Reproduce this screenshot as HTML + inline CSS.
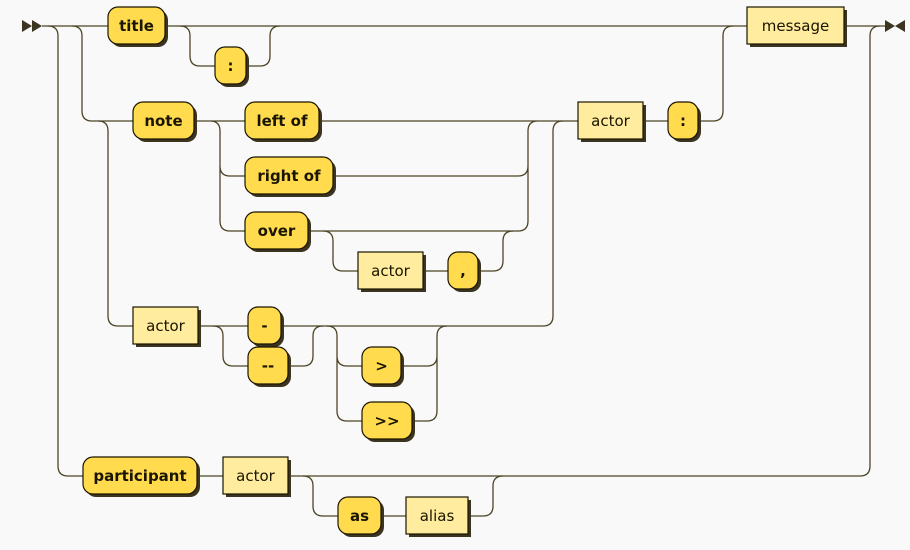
<!DOCTYPE html>
<html><head><meta charset="utf-8"><style>
html,body{margin:0;padding:0;background:#f9f9f9;}
svg{display:block;}
.l{fill:none;stroke:#4d4425;stroke-width:1.3;}
.t rect.b{fill:#ffdb4d;stroke:#1a1500;stroke-width:1.2;}
.n rect.b{fill:#ffec9e;stroke:#1a1500;stroke-width:1.2;}
rect.s{fill:#3b3420;}
text{font-family:"DejaVu Sans","Liberation Sans",sans-serif;font-size:15px;fill:#1a1500;text-anchor:middle;dominant-baseline:central;}
.t text{font-weight:bold;}
</style></head><body>
<svg width="910" height="550" viewBox="0 0 910 550">
<g class="l">
<path d="M42 26 H108 M165 26 H747 M844 26 H885"/>
<path d="M180 26 Q190 26 190 36 V56 Q190 66 200 66 H215 M246 66 H260 Q270 66 270 56 V36 Q270 26 280 26"/>
<path d="M48 26 Q58 26 58 36 V466 Q58 476 68 476 H83"/>
<path d="M72 26 Q82 26 82 36 V111 Q82 121 92 121 H133"/>
<path d="M98 121 Q108 121 108 131 V316 Q108 326 118 326 H133"/>
<path d="M194 121 H245 M210 121 Q220 121 220 131 V221 Q220 231 230 231 H245 M220 166 Q220 176 230 176 H245"/>
<path d="M319 121 H578 M308 231 H518 Q528 231 528 221 V131 Q528 121 538 121 M333 176 H518 Q528 176 528 166"/>
<path d="M323 231 Q333 231 333 241 V261 Q333 271 343 271 H358 M423 271 H448 M478 271 H493 Q503 271 503 261 V241 Q503 231 513 231"/>
<path d="M198 326 H248 M281 326 H543 Q553 326 553 316 V131 Q553 121 563 121"/>
<path d="M213 326 Q223 326 223 336 V356 Q223 366 233 366 H248 M288 366 H303 Q313 366 313 356 V336 Q313 326 323 326"/>
<path d="M327 326 Q337 326 337 336 V356 Q337 366 347 366 H362 M337 356 V411 Q337 421 347 421 H362"/>
<path d="M401 366 H427 Q437 366 437 356 V336 Q437 326 447 326 M412 421 H427 Q437 421 437 411 V356"/>
<path d="M643 121 H668 M698 121 H713 Q723 121 723 111 V36 Q723 26 733 26"/>
<path d="M197 476 H223 M288 476 H860 Q870 476 870 466 V36 Q870 26 880 26"/>
<path d="M303 476 Q313 476 313 486 V506 Q313 516 323 516 H338 M381 516 H406 M468 516 H483 Q493 516 493 506 V486 Q493 476 503 476"/>
</g>
<g fill="#3b3420">
<polygon points="22,20 32,26 22,32"/><polygon points="32,20 42,26 32,32"/>
<polygon points="885,20 895,26 885,32"/><polygon points="905,20 895,26 905,32"/>
</g>
<g class="t">
<rect class="s" x="111" y="10" width="57" height="37" rx="10"/><rect class="b" x="108" y="7" width="57" height="37" rx="10"/><text x="136.5" y="26">title</text>
<rect class="s" x="218" y="50" width="31" height="37" rx="10"/><rect class="b" x="215" y="47" width="31" height="37" rx="10"/><text x="230.5" y="66">:</text>
<rect class="s" x="136" y="105" width="61" height="37" rx="10"/><rect class="b" x="133" y="102" width="61" height="37" rx="10"/><text x="163.5" y="121">note</text>
<rect class="s" x="248" y="105" width="74" height="37" rx="10"/><rect class="b" x="245" y="102" width="74" height="37" rx="10"/><text x="282" y="121">left of</text>
<rect class="s" x="248" y="160" width="88" height="37" rx="10"/><rect class="b" x="245" y="157" width="88" height="37" rx="10"/><text x="289" y="176">right of</text>
<rect class="s" x="248" y="215" width="63" height="37" rx="10"/><rect class="b" x="245" y="212" width="63" height="37" rx="10"/><text x="276.5" y="231">over</text>
<rect class="s" x="451" y="255" width="30" height="37" rx="10"/><rect class="b" x="448" y="252" width="30" height="37" rx="10"/><text x="463" y="271">,</text>
<rect class="s" x="671" y="105" width="30" height="37" rx="10"/><rect class="b" x="668" y="102" width="30" height="37" rx="10"/><text x="683" y="121">:</text>
<rect class="s" x="251" y="310" width="33" height="37" rx="10"/><rect class="b" x="248" y="307" width="33" height="37" rx="10"/><text x="264.5" y="326">-</text>
<rect class="s" x="251" y="350" width="40" height="37" rx="10"/><rect class="b" x="248" y="347" width="40" height="37" rx="10"/><text x="268" y="366">--</text>
<rect class="s" x="365" y="350" width="39" height="37" rx="10"/><rect class="b" x="362" y="347" width="39" height="37" rx="10"/><text x="381.5" y="366">&gt;</text>
<rect class="s" x="365" y="405" width="50" height="37" rx="10"/><rect class="b" x="362" y="402" width="50" height="37" rx="10"/><text x="387" y="421">&gt;&gt;</text>
<rect class="s" x="86" y="460" width="114" height="37" rx="10"/><rect class="b" x="83" y="457" width="114" height="37" rx="10"/><text x="140" y="476">participant</text>
<rect class="s" x="341" y="500" width="43" height="37" rx="10"/><rect class="b" x="338" y="497" width="43" height="37" rx="10"/><text x="359.5" y="516">as</text>
</g>
<g class="n">
<rect class="s" x="750" y="10" width="97" height="37"/><rect class="b" x="747" y="7" width="97" height="37"/><text x="795.5" y="26">message</text>
<rect class="s" x="361" y="255" width="65" height="37"/><rect class="b" x="358" y="252" width="65" height="37"/><text x="390.5" y="271">actor</text>
<rect class="s" x="581" y="105" width="65" height="37"/><rect class="b" x="578" y="102" width="65" height="37"/><text x="610.5" y="121">actor</text>
<rect class="s" x="136" y="310" width="65" height="37"/><rect class="b" x="133" y="307" width="65" height="37"/><text x="165.5" y="326">actor</text>
<rect class="s" x="226" y="460" width="65" height="37"/><rect class="b" x="223" y="457" width="65" height="37"/><text x="255.5" y="476">actor</text>
<rect class="s" x="409" y="500" width="62" height="37"/><rect class="b" x="406" y="497" width="62" height="37"/><text x="437" y="516">alias</text>
</g>
</svg>
</body></html>
